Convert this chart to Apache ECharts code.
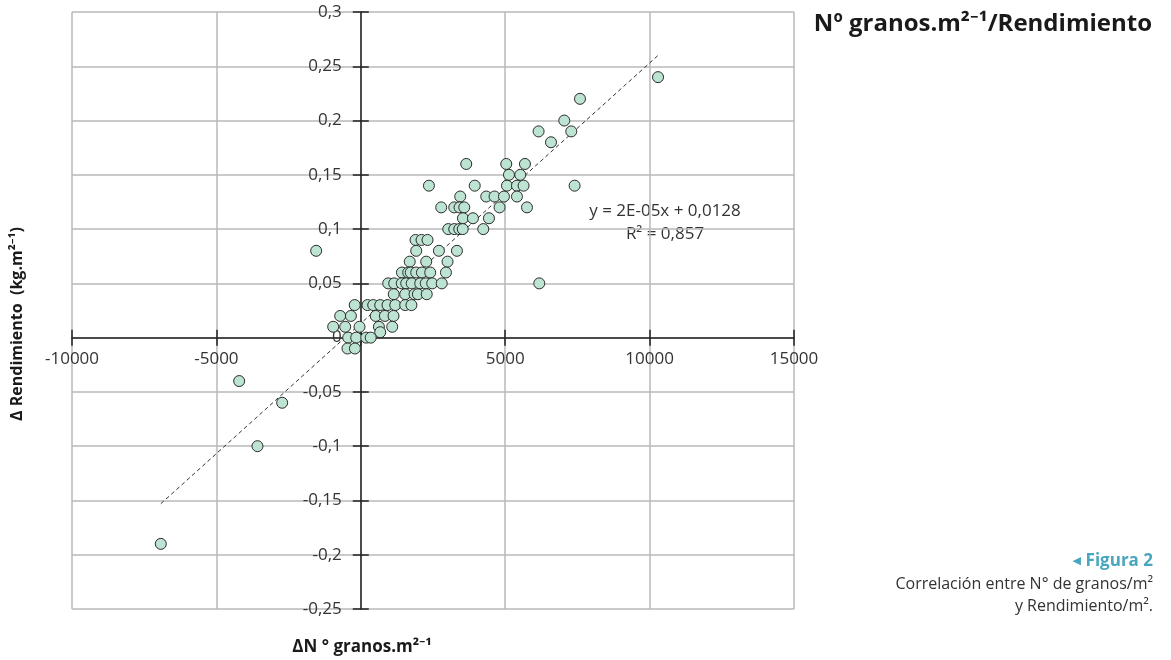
<!DOCTYPE html>
<html><head><meta charset="utf-8">
<script src="https://cdn.jsdelivr.net/npm/echarts@6/dist/echarts.min.js"></script>
<style>html,body{margin:0;padding:0;background:#fff}#c{width:1171px;height:660px}</style>
</head><body><div id="c"></div>
<script>
// ΔN° granos.m-2 (x) and Δ Rendimiento kg.m-2 (y)
const deltaGranos = [
  10292, 7590, 7046, 6156, 7288, 6585,
  3651, 5037, 5684, 5130, 5522,
  2359, 3945, 5061, 5407, 5636, 7403,
  3443, 4344, 4631, 4957, 5407,
  2785, 3235, 3419, 3582, 4805, 5754,
  3537, 3883, 4437,
  3028, 3235, 3409, 3530, 4240,
  1895, 2103, 2310,
  1919, 2705, 3329, -1545,
  1694, 2265, 3003,
  1424, 1642, 1729, 1919, 2117, 2404, 2948,
  949, 1157, 1417, 1573, 1763, 2058, 2248, 2473, 2802, 6180,
  1140, 1538, 1860, 1978, 2283,
  -211, 232, 430, 672, 925, 1192, 1538, 1753,
  -714, -343, 516, 835, 1133,
  -956, -540, -45, 627, 1088,
  672,
  -436, -159, 187, 343,
  -461, -204,
  -6925, -4212, -3578, -2723
];
const deltaRend = [
  0.24, 0.22, 0.20, 0.19, 0.19, 0.18,
  0.16, 0.16, 0.16, 0.15, 0.15,
  0.14, 0.14, 0.14, 0.14, 0.14, 0.14,
  0.13, 0.13, 0.13, 0.13, 0.13,
  0.12, 0.12, 0.12, 0.12, 0.12, 0.12,
  0.11, 0.11, 0.11,
  0.10, 0.10, 0.10, 0.10, 0.10,
  0.09, 0.09, 0.09,
  0.08, 0.08, 0.08, 0.08,
  0.07, 0.07, 0.07,
  0.06, 0.06, 0.06, 0.06, 0.06, 0.06, 0.06,
  0.05, 0.05, 0.05, 0.05, 0.05, 0.05, 0.05, 0.05, 0.05, 0.05,
  0.04, 0.04, 0.04, 0.04, 0.04,
  0.03, 0.03, 0.03, 0.03, 0.03, 0.03, 0.03, 0.03,
  0.02, 0.02, 0.02, 0.02, 0.02,
  0.01, 0.01, 0.01, 0.01, 0.01,
  0.005,
  0, 0, 0, 0,
  -0.01, -0.01,
  -0.19, -0.04, -0.10, -0.06
];
// Linear trend line endpoints (as drawn in the picture)
const trendX = [-6925, 10292];
const trendY = [-0.153, 0.26];
const equationLines = ['y = 2E-05x + 0,0128', 'R² = 0,857'];

const xRange = { min: -10000, max: 15000, interval: 5000 };
const yRange = { min: -0.25, max: 0.3, interval: 0.05 };

const titleText = 'Nº granos.m²⁻¹/Rendimiento';
const xName = 'ΔN ° granos.m²⁻¹';
const yName = 'Δ Rendimiento  (kg.m²⁻¹)';
const captionHead = 'Figura 2';
const captionLines = ['Correlación entre N° de granos/m²', 'y Rendimiento/m².'];

const FONT = '"Open Sans", "Noto Sans", sans-serif';
const AX = '#222';
const W = 1171, H = 660;
const G = { left: 72, right: 377, top: 12, bottom: 51 };
const gw = W - G.left - G.right, gh = H - G.top - G.bottom;
// pixel distance of the zero lines from the grid edges (axes cross at 0)
const zeroFromLeft = gw * (0 - xRange.min) / (xRange.max - xRange.min);
const zeroFromBottom = gh * (0 - yRange.min) / (yRange.max - yRange.min);

const chart = echarts.init(document.getElementById('c'));

const fmtY = v => String(Math.round(v * 100) / 100).replace('.', ',');
const fmtX = v => (v === 0 ? '' : String(v));

const baseX = { type: 'value', min: xRange.min, max: xRange.max, interval: xRange.interval };
const baseY = { type: 'value', min: yRange.min, max: yRange.max, interval: yRange.interval };
const lineSt = { color: AX, width: 1.5 };

chart.setOption({
  animation: false,
  backgroundColor: '#fff',
  grid: G,
  xAxis: [
    Object.assign({}, baseX, {
      position: 'bottom', offset: -zeroFromBottom,
      axisLine: { onZero: false, lineStyle: lineSt },
      axisTick: { show: true, length: 8, lineStyle: lineSt },
      axisLabel: { formatter: fmtX, fontSize: 17, color: '#333', margin: 13, fontFamily: FONT },
      splitLine: { show: true, lineStyle: { color: '#b8b8b8', width: 1.5 } }
    }),
    Object.assign({}, baseX, {
      position: 'top', offset: -(gh - zeroFromBottom),
      axisLine: { show: false, onZero: false },
      axisTick: { show: true, length: 8, lineStyle: lineSt },
      axisLabel: { show: false },
      splitLine: { show: false }
    })
  ],
  yAxis: [
    Object.assign({}, baseY, {
      position: 'left', offset: -zeroFromLeft,
      axisLine: { onZero: false, lineStyle: lineSt },
      axisTick: { show: true, length: 8, lineStyle: lineSt },
      axisLabel: { formatter: fmtY, fontSize: 17, color: '#333', margin: 19, fontFamily: FONT },
      splitLine: { show: true, lineStyle: { color: '#b8b8b8', width: 1.5 } }
    }),
    Object.assign({}, baseY, {
      position: 'right', offset: -(gw - zeroFromLeft),
      axisLine: { show: false, onZero: false },
      axisTick: { show: true, length: 8, lineStyle: lineSt },
      axisLabel: { show: false },
      splitLine: { show: false }
    })
  ],
  series: [
    {
      type: 'line',
      data: trendX.map((x, i) => [x, trendY[i]]),
      symbol: 'none',
      silent: true,
      z: 1,
      lineStyle: { color: '#333', width: 1, type: [4, 3] }
    },
    {
      type: 'scatter',
      data: deltaGranos.map((x, i) => [x, deltaRend[i]]),
      symbol: 'circle',
      symbolSize: 11,
      z: 3,
      itemStyle: { color: '#bde3d3', borderColor: '#2a2a2a', borderWidth: 1, opacity: 1 }
    }
  ],
  graphic: [
    { type: 'text', x: 1152, y: 24, style: { text: titleText, fill: '#1a1a1a', font: 'bold 24px ' + FONT, textAlign: 'right', textVerticalAlign: 'middle' } },
    { type: 'text', x: 665, y: 211, style: { text: equationLines[0], fill: '#333', font: '17px ' + FONT, textAlign: 'center', textVerticalAlign: 'middle' } },
    { type: 'text', x: 665, y: 234, style: { text: equationLines[1], fill: '#333', font: '17px ' + FONT, textAlign: 'center', textVerticalAlign: 'middle' } },
    { type: 'text', x: 362, y: 647, style: { text: xName, fill: '#1a1a1a', font: 'bold 17px ' + FONT, textAlign: 'center', textVerticalAlign: 'middle' } },
    { type: 'text', x: 17, y: 324, rotation: Math.PI / 2, style: { text: yName, fill: '#1a1a1a', font: 'bold 16px ' + FONT, textAlign: 'center', textVerticalAlign: 'middle' } },
    { type: 'text', x: 1153, y: 561, style: { text: captionHead, fill: '#48a6be', font: 'bold 17px ' + FONT, textAlign: 'right', textVerticalAlign: 'middle' } },
    { type: 'text', x: 1081, y: 561, style: { text: '◀', fill: '#48a6be', font: '11px "DejaVu Sans"', textAlign: 'right', textVerticalAlign: 'middle' } },
    { type: 'text', x: 1153, y: 584, style: { text: captionLines[0], fill: '#333', font: '16px ' + FONT, textAlign: 'right', textVerticalAlign: 'middle' } },
    { type: 'text', x: 1153, y: 606, style: { text: captionLines[1], fill: '#333', font: '16px ' + FONT, textAlign: 'right', textVerticalAlign: 'middle' } }
  ]
});
</script>
</body></html>
